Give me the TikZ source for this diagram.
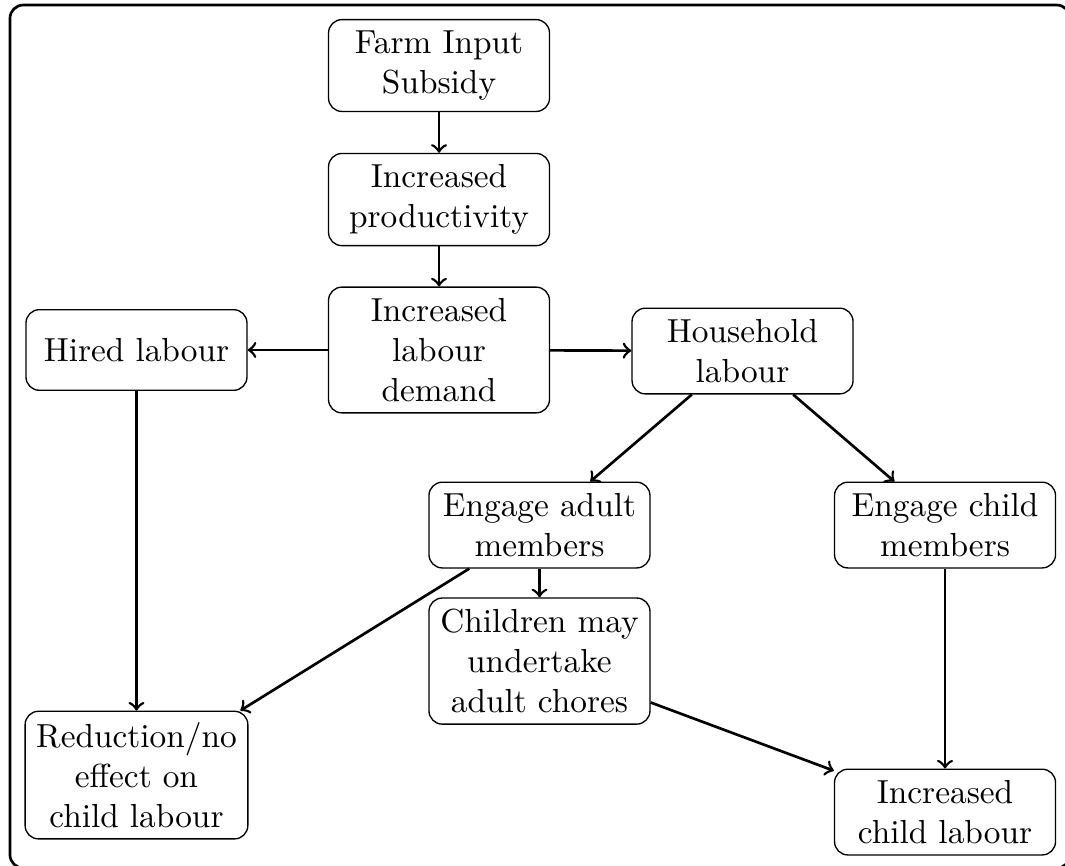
\documentclass[tikz,border=0pt]{standalone}
\usepackage{amsmath}
\usepackage{tikz}
\usetikzlibrary{arrows}

\begin{document}
\begin{tikzpicture}[block/.style={rectangle, draw, rounded corners, align=center, minimum width=2.33cm, minimum height=0.85cm}, arrow/.style={thick, ->}]
\useasboundingbox (0,0) rectangle (11.229,-9.121);
\draw [thick, rounded corners] (0.105,-0.053) rectangle (11.282,-9.152);
\node [block] (subsidy) at (4.629,-0.691) {Farm Input\\Subsidy};
\node [block] (productivity) at (4.629,-2.104) {Increased\\productivity};
\node [block] (demand) at (4.629,-3.690) {Increased\\labour\\demand};
\node [block] (hired) at (1.439,-3.690) {Hired labour};
\node [block] (household) at (7.829,-3.701) {Household\\labour};
\node [block] (adult) at (5.688,-5.536) {Engage adult\\members};
\node [block] (child) at (9.964,-5.536) {Engage child\\members};
\node [block] (chores) at (5.688,-6.970) {Children may\\undertake\\adult chores};
\node [block] (reduction) at (1.439,-8.172) {Reduction/no\\effect on\\child labour};
\node [block] (increased) at (9.964,-8.562) {Increased\\child labour};
\draw [arrow] (subsidy) -- (productivity);
\draw [arrow] (productivity) -- (demand);
\draw [arrow] (demand) -- (hired);
\draw [arrow] (demand) -- (household);
\draw [arrow] (household) -- (adult);
\draw [arrow] (household) -- (child);
\draw [arrow] (adult) -- (chores);
\draw [arrow] (adult) -- (reduction);
\draw [arrow] (hired) -- (reduction);
\draw [arrow] (chores) -- (increased);
\draw [arrow] (child) -- (increased);
\end{tikzpicture}
\end{document}
